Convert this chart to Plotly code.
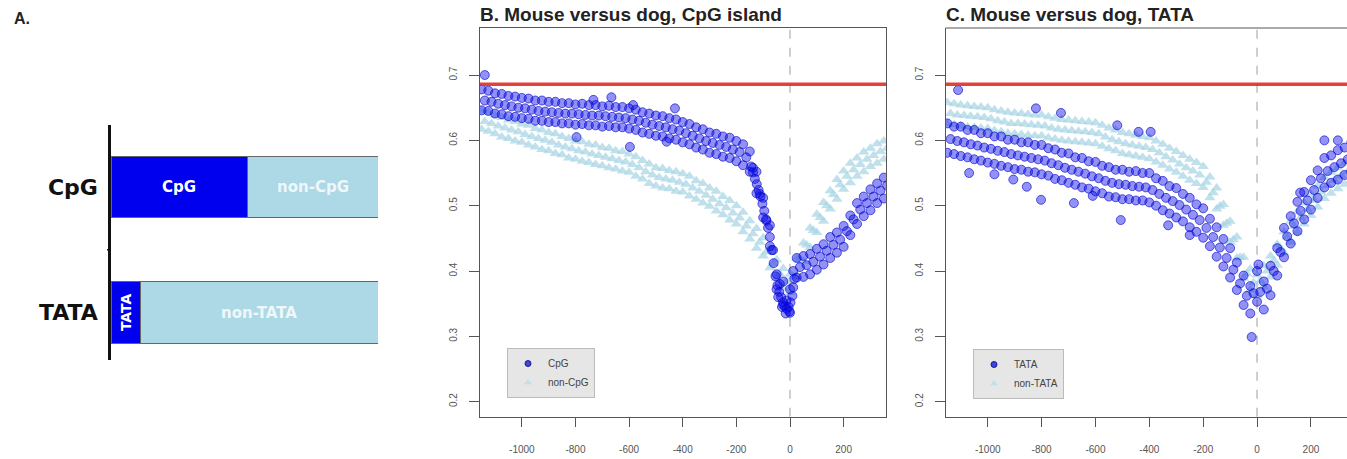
import plotly.graph_objects as go

# ---------------- Panel A data ----------------
bar_groups = ["TATA", "CpG"]
bar_pos = [0, 1]
frac_focus = [0.109, 0.513]      # TATA / CpG share
frac_other = [0.891, 0.487]      # non-TATA / non-CpG share

# ---------------- Panels B / C data ----------------
# positions of the upper / lower edge readings
pos = [-1150, -1125, -1100, -1075, -1050, -1025, -1000, -975, -950, -925,
       -900, -875, -850, -825, -800, -775, -750, -725, -700, -675,
       -650, -625, -600, -575, -550, -525, -500, -475, -450, -425,
       -400, -375, -350, -325, -300, -275, -250, -225, -200, -175,
       -150, -125, -100, -75, -50, -25, 0, 25, 50, 75,
       100, 125, 150, 175, 200, 225, 250, 275, 300, 325, 350]
# positions of the centre readings (staggered)
pos_mid = [-1138, -1113, -1088, -1063, -1038, -1013, -988, -963, -938, -913,
           -888, -863, -838, -813, -788, -763, -738, -713, -688, -663,
           -638, -613, -588, -563, -538, -513, -488, -463, -438, -413,
           -388, -363, -338, -313, -288, -263, -238, -213, -188, -163,
           -138, -113, -88, -63, -38, -13, 12, 37, 62, 87,
           112, 137, 162, 187, 212, 237, 262, 287, 312, 337, 362]

cpg_mid = [.661, .659, .656, .654, .652, .650, .649, .647, .645, .644,
           .643, .642, .641, .641, .640, .639, .638, .638, .637, .636,
           .635, .634, .632, .630, .627, .624, .622, .620, .617, .615,
           .611, .607, .603, .599, .596, .593, .590, .586, .582, .574,
           .558, .518, .477, .432, .380, .355, .400, .406, .409, .414,
           .422, .431, .440, .448, .461, .479, .494, .504, .514, .523, .531]
cpg_hi = [.678, .676, .672, .671, .668, .667, .665, .664, .661, .661,
          .659, .659, .657, .657, .655, .656, .654, .654, .652, .653,
          .651, .651, .649, .647, .643, .641, .638, .637, .634, .632,
          .628, .625, .620, .617, .612, .610, .606, .604, .599, .594,
          .583, .552, .512, .470, .395, .384, .372, .420, .423, .426,
          .434, .441, .452, .459, .469, .485, .504, .514, .525, .534, .543]
cpg_lo = [.646, .645, .641, .640, .637, .636, .634, .633, .630, .630,
          .628, .628, .626, .626, .624, .625, .623, .623, .621, .622,
          .620, .620, .618, .616, .612, .610, .607, .606, .603, .601,
          .597, .594, .589, .586, .581, .579, .575, .573, .568, .562,
          .552, .519, .482, .438, .372, .348, .336, .390, .391, .395,
          .402, .410, .420, .428, .437, .455, .472, .484, .493, .504, .511]
# extra readings along the steep drop and the dip of the CpG cloud
cpg_dip_x = [-145, -138, -131, -124, -117, -110, -103, -96, -89, -82, -75, -68, -61,
             -54, -47, -40, -33, -26, -19, -12, -5, 2, 9, -44, -30, -16, -2, 12, 16]
cpg_dip_y = [.560, .551, .541, .533, .524, .514, .503, .492, .479, .466, .452, .432, .412,
             .392, .378, .368, .360, .352, .346, .342, .345, .352, .362, .360, .345, .335,
             .338, .375, .388]
cpg_out_x = [-1138, -796, -597, -460, -733, -666, -585, -429]
cpg_out_y = [0.700, 0.605, 0.590, 0.598, 0.662, 0.666, 0.654, 0.649]

ncpg_mid = [.629, .626, .622, .619, .616, .613, .609, .606, .603, .600,
            .597, .593, .590, .587, .584, .582, .579, .577, .574, .572,
            .569, .567, .563, .558, .552, .547, .543, .541, .539, .536,
            .533, .527, .522, .516, .510, .503, .497, .489, .481, .469,
            .457, .444, .429, .411, .396, .384, .392, .417, .440, .462,
            .482, .500, .517, .532, .545, .555, .563, .571, .577, .583, .588]
ncpg_hi = [.645, .643, .638, .635, .631, .629, .625, .623, .618, .616,
           .612, .610, .606, .603, .599, .598, .594, .593, .589, .588,
           .584, .583, .579, .575, .569, .564, .558, .557, .554, .552,
           .549, .545, .538, .534, .527, .522, .514, .508, .500, .490,
           .477, .465, .451, .435, .417, .404, .395, .419, .443, .466,
           .487, .505, .523, .540, .553, .565, .573, .582, .588, .595, .599]
ncpg_lo = [.617, .614, .610, .605, .603, .599, .597, .593, .590, .586,
           .584, .580, .578, .573, .571, .568, .566, .563, .561, .558,
           .556, .553, .551, .545, .541, .534, .530, .527, .526, .522,
           .521, .515, .510, .504, .499, .492, .486, .478, .472, .460,
           .449, .435, .423, .405, .389, .374, .367, .391, .415, .436,
           .459, .476, .495, .510, .525, .535, .545, .552, .560, .565, .571]

tata_mid = [.602, .599, .597, .594, .592, .589, .587, .584, .582, .579,
            .577, .575, .573, .571, .569, .565, .562, .558, .555, .552,
            .549, .545, .542, .538, .535, .533, .532, .530, .529, .528,
            .524, .518, .512, .507, .501, .494, .486, .478, .466, .452,
            .436, .420, .402, .381, .362, .366, .368, .373, .400, .429,
            .453, .473, .492, .508, .524, .542, .553, .559, .565, .571, .577]
tata_hi = [.626, .621, .621, .616, .616, .611, .611, .606, .606, .601,
           .601, .597, .597, .593, .593, .588, .586, .581, .580, .574,
           .573, .568, .567, .561, .559, .555, .555, .552, .553, .550,
           .550, .542, .538, .530, .527, .518, .512, .502, .496, .480,
           .467, .449, .435, .413, .393, .377, .400, .384, .408, .435,
           .466, .484, .506, .521, .539, .554, .573, .577, .585, .589, .597]
tata_lo = [.581, .579, .576, .574, .571, .569, .566, .564, .561, .559,
           .556, .555, .552, .551, .548, .546, .541, .539, .535, .532,
           .528, .526, .522, .519, .514, .513, .510, .510, .508, .508,
           .505, .500, .493, .488, .482, .476, .467, .460, .451, .438,
           .422, .407, .390, .371, .348, .335, .353, .341, .363, .393,
           .421, .442, .461, .479, .494, .512, .528, .535, .540, .547, .552]
tata_out_x = [-821, -728, -519, -440, -395, -802, -680, -506, -1069, -855, -1110, -20, 5, 250,
              -975, -905, -610, -330, -250, 160, 300]
tata_out_y = [0.649, 0.642, 0.623, 0.613, 0.613, 0.509, 0.504, 0.478, 0.550, 0.529, 0.677, 0.299, 0.410, 0.600,
              0.548, 0.540, 0.515, 0.470, 0.455, 0.520, 0.600]

ntata_mid = [.641, .639, .638, .637, .636, .635, .633, .630, .628, .626,
             .626, .625, .624, .623, .622, .619, .617, .616, .615, .614,
             .613, .612, .610, .605, .601, .598, .595, .593, .591, .589,
             .586, .581, .575, .570, .564, .558, .553, .547, .536, .520,
             .499, .473, .448, .421, .396, .382, .385, .400, .416, .435,
             .452, .468, .482, .495, .508, .521, .531, .539, .546, .552, .558]
ntata_hi = [.658, .656, .654, .653, .652, .651, .650, .647, .645, .643,
            .642, .641, .640, .639, .639, .636, .634, .632, .631, .630,
            .629, .628, .627, .623, .619, .616, .612, .610, .608, .606,
            .604, .599, .594, .588, .583, .577, .571, .566, .560, .544,
            .527, .502, .476, .452, .421, .403, .394, .408, .423, .441,
            .460, .476, .491, .504, .517, .530, .543, .551, .558, .565, .571]
ntata_lo = [.626, .624, .622, .621, .620, .619, .618, .615, .613, .611,
            .610, .609, .608, .607, .607, .604, .602, .600, .599, .598,
            .597, .596, .595, .591, .587, .584, .580, .578, .576, .574,
            .572, .567, .562, .556, .551, .545, .539, .534, .528, .512,
            .495, .470, .444, .420, .389, .371, .362, .376, .391, .409,
            .428, .444, .459, .472, .485, .498, .511, .519, .526, .533, .539]

reference_level = 0.686
x_ticks = [-1000, -800, -600, -400, -200, 0, 200]
x_ticktext = ["-1000", "-800", "-600", "-400", "-200", "0", "200"]
y_ticks = [0.2, 0.3, 0.4, 0.5, 0.6, 0.7]
y_ticktext = ["0.2", "0.3", "0.4", "0.5", "0.6", "0.7"]

for arr in [pos_mid, cpg_mid, cpg_hi, cpg_lo, ncpg_mid, ncpg_hi, ncpg_lo,
            tata_mid, tata_hi, tata_lo, ntata_mid, ntata_hi, ntata_lo]:
    assert len(arr) == len(pos), len(arr)
assert len(cpg_dip_x) == len(cpg_dip_y)

W, H = 1347, 459
DARK = "#0000EE"
LIGHT = "#ADD8E6"


def px_x(p):
    return p / W


def px_y(p):
    return 1 - p / H


fig = go.Figure()

# ---------------- Panel A ----------------
fig.add_trace(go.Bar(y=bar_pos, x=frac_focus, orientation="h", width=0.49,
                     marker=dict(color=DARK, line=dict(color="#666", width=1)),
                     xaxis="x3", yaxis="y3", showlegend=False, hoverinfo="skip"))
fig.add_trace(go.Bar(y=bar_pos, x=frac_other, orientation="h", width=0.49,
                     marker=dict(color=LIGHT, line=dict(color="#666", width=1)),
                     xaxis="x3", yaxis="y3", showlegend=False, hoverinfo="skip"))

# ---------------- Panels B / C scatter ----------------
light_marker = dict(symbol="triangle-up", size=10, color="rgba(165,212,228,0.7)", line=dict(width=0))
dark_marker = dict(symbol="circle", size=9, color="rgba(10,10,235,0.45)",
                   line=dict(color="rgba(0,0,200,0.6)", width=1))
legend_dark = dict(symbol="circle", size=6, color="rgba(40,40,200,0.85)",
                   line=dict(color="rgba(0,0,160,0.8)", width=1))
legend_light = dict(symbol="triangle-up", size=7, color="rgba(190,222,234,0.9)", line=dict(width=0))

xs_b_light = pos + pos_mid + pos
xs_b_dark = pos + pos_mid + pos + cpg_dip_x + cpg_out_x
xs_c_dark = pos + pos_mid + pos + tata_out_x

fig.add_trace(go.Scatter(x=xs_b_light, y=ncpg_hi + ncpg_mid + ncpg_lo, mode="markers",
                         marker=light_marker, xaxis="x", yaxis="y", showlegend=False))
fig.add_trace(go.Scatter(x=xs_b_dark, y=cpg_hi + cpg_mid + cpg_lo + cpg_dip_y + cpg_out_y,
                         mode="markers", marker=dark_marker, xaxis="x", yaxis="y",
                         showlegend=False))
fig.add_trace(go.Scatter(x=xs_b_light, y=ntata_hi + ntata_mid + ntata_lo, mode="markers",
                         marker=light_marker, xaxis="x2", yaxis="y2", showlegend=False))
fig.add_trace(go.Scatter(x=xs_c_dark, y=tata_hi + tata_mid + tata_lo + tata_out_y,
                         mode="markers", marker=dark_marker, xaxis="x2", yaxis="y2",
                         showlegend=False))

# legend keys
fig.add_trace(go.Scatter(x=[None], y=[None], mode="markers", marker=legend_dark, name="CpG",
                         xaxis="x", yaxis="y", legend="legend"))
fig.add_trace(go.Scatter(x=[None], y=[None], mode="markers", marker=legend_light, name="non-CpG",
                         xaxis="x", yaxis="y", legend="legend"))
fig.add_trace(go.Scatter(x=[None], y=[None], mode="markers", marker=legend_dark, name="TATA",
                         xaxis="x2", yaxis="y2", legend="legend2"))
fig.add_trace(go.Scatter(x=[None], y=[None], mode="markers", marker=legend_light, name="non-TATA",
                         xaxis="x2", yaxis="y2", legend="legend2"))

tickfont = dict(family="Liberation Sans, Arial, sans-serif", size=10, color="#555")
ydom = [px_y(416.7), px_y(28)]

common_x = dict(showgrid=False, zeroline=False, showline=True, linecolor="#555", linewidth=1,
                ticks="outside", ticklen=9, tickcolor="#555", tickvals=x_ticks,
                ticktext=x_ticktext, tickfont=tickfont, ticklabelstandoff=14)
common_y = dict(showgrid=False, zeroline=False, showline=True, linecolor="#555", linewidth=1,
                ticks="outside", ticklen=10, tickcolor="#555", tickvals=y_ticks,
                ticktext=y_ticktext, tickfont=tickfont, tickangle=-90, ticklabelstandoff=8,
                range=[0.177, 0.772], domain=ydom)

legend_style = dict(xanchor="left", yanchor="top", bgcolor="#e6e6e6", bordercolor="#bbbbbb",
                    borderwidth=1, font=dict(family="Liberation Sans, Arial", size=10, color="#444"),
                    tracegroupgap=0, itemwidth=30, traceorder="normal")

fig.update_layout(
    width=W, height=H, margin=dict(l=0, r=0, t=0, b=0),
    paper_bgcolor="white", plot_bgcolor="white", barmode="stack",
    xaxis=dict(common_x, domain=[px_x(480), px_x(886)], range=[-1156, 358], mirror=True, anchor="y"),
    yaxis=dict(common_y, mirror=True, anchor="x"),
    xaxis2=dict(common_x, domain=[px_x(945.7), 1.0], range=[-1156, 334], anchor="y2"),
    yaxis2=dict(common_y, anchor="x2"),
    xaxis3=dict(domain=[px_x(111), px_x(378)], range=[0, 1], visible=False, anchor="y3",
                fixedrange=True),
    yaxis3=dict(domain=[px_y(360), px_y(125)], range=[-0.378, 1.494], anchor="x3",
                showline=True, linecolor="#111", linewidth=2.5, ticks="",
                tickvals=bar_pos, ticktext=bar_groups, showgrid=False, zeroline=False,
                tickfont=dict(family="DejaVu Sans", size=22, color="#111", weight="bold"),
                ticklabelstandoff=6),
    legend=dict(legend_style, x=px_x(507), y=px_y(348)),
    legend2=dict(legend_style, x=px_x(973), y=px_y(349)),
)

shapes = []
for xr, yr in [("x", "y"), ("x2", "y2")]:
    shapes.append(dict(type="line", xref=xr, yref=f"{yr} domain", x0=0, x1=0, y0=0, y1=1,
                       line=dict(color="#b5b5b5", width=1.3, dash="dash"), layer="below"))
    shapes.append(dict(type="line", xref=f"{xr} domain", yref=yr, x0=0, x1=1,
                       y0=reference_level, y1=reference_level,
                       line=dict(color="rgba(222,45,35,0.9)", width=3.5)))
shapes.append(dict(type="line", xref="x2 domain", yref="y2 domain", x0=0, x1=1, y0=1, y1=1,
                   line=dict(color="#555", width=1)))
shapes.append(dict(type="line", xref="paper", yref="y3", x0=px_x(107), x1=px_x(111),
                   y0=0.5, y1=0.5, line=dict(color="#111", width=1.5)))
fig.update_layout(shapes=shapes)

ann = []
title_font = dict(family="Liberation Sans, Arial, sans-serif", size=19, color="#222", weight="bold")
ann.append(dict(text="A.", x=px_x(12), y=px_y(29), xref="paper", yref="paper",
                xanchor="left", yanchor="bottom", showarrow=False,
                font=dict(family="Liberation Sans, Arial", size=16, color="#222", weight="bold")))
ann.append(dict(text="B. Mouse versus dog, CpG island", x=px_x(478), y=px_y(27), xref="paper",
                yref="paper", xanchor="left", yanchor="bottom", showarrow=False, font=title_font))
ann.append(dict(text="C. Mouse versus dog, TATA", x=px_x(944), y=px_y(27), xref="paper",
                yref="paper", xanchor="left", yanchor="bottom", showarrow=False, font=title_font))

inner_font = dict(family="DejaVu Sans", size=15, weight="bold")
ann.append(dict(text=bar_groups[1], x=frac_focus[1] / 2, y=bar_pos[1], xref="x3", yref="y3",
                showarrow=False, font=dict(inner_font, color="white")))
ann.append(dict(text="non-" + bar_groups[1], x=frac_focus[1] + frac_other[1] / 2, y=bar_pos[1],
                xref="x3", yref="y3", showarrow=False, font=dict(inner_font, color="#eef7fa")))
ann.append(dict(text=bar_groups[0], x=frac_focus[0] / 2, y=bar_pos[0], xref="x3", yref="y3",
                showarrow=False, textangle=-90, font=dict(inner_font, size=14, color="white")))
ann.append(dict(text="non-" + bar_groups[0], x=frac_focus[0] + frac_other[0] / 2, y=bar_pos[0],
                xref="x3", yref="y3", showarrow=False, font=dict(inner_font, color="#eef7fa")))
fig.update_layout(annotations=ann)

fig.write_html("out.html")
